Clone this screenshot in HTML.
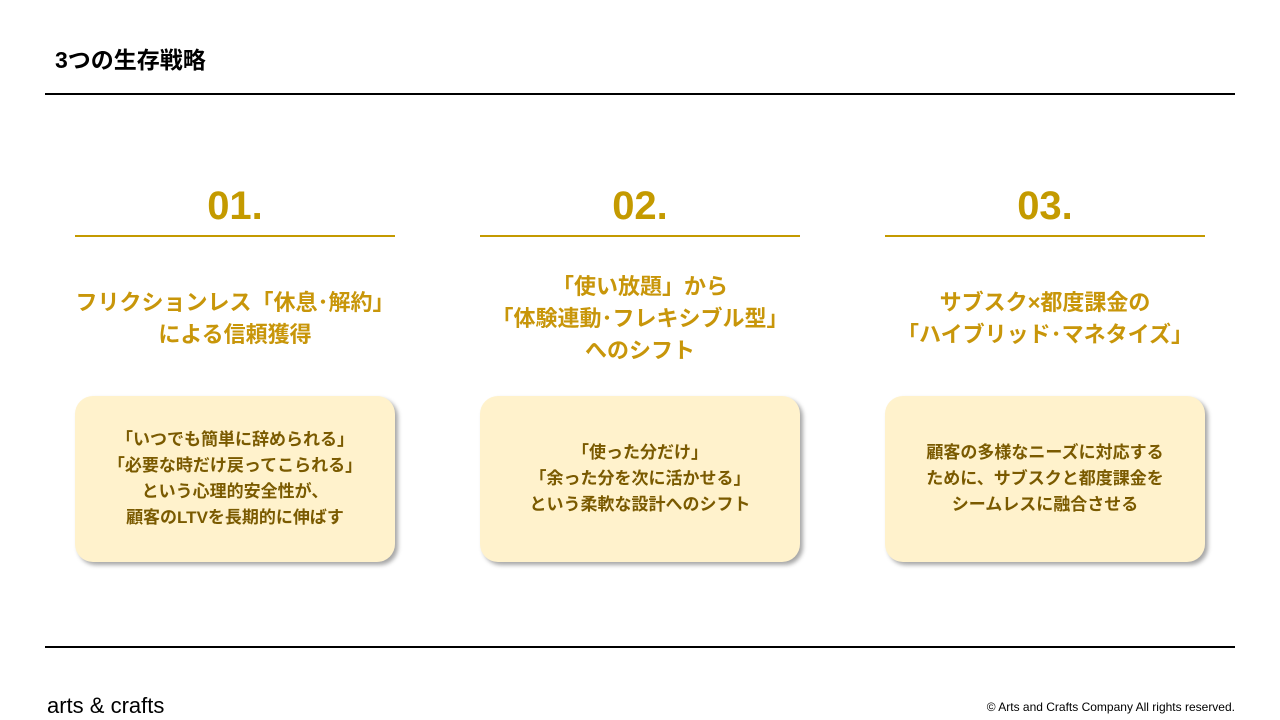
<!DOCTYPE html>
<html><head><meta charset="utf-8"><style>
body{margin:0;width:1280px;height:720px;background:#fff;position:relative;overflow:hidden;font-family:"Liberation Sans","Noto Sans CJK JP",sans-serif;}
.t{position:absolute;left:55px;top:41px;font-size:23px;font-weight:bold;color:#000;}
.hl{position:absolute;left:45px;width:1190px;height:2px;background:#000;}
.col{position:absolute;width:320px;top:0;}
.num{position:absolute;top:184px;width:320px;text-align:center;font-size:40px;font-weight:bold;color:#c49a00;}
.ul{position:absolute;top:235px;width:320px;height:2px;background:#c49a00;}
.h{position:absolute;width:360px;left:-20px;text-align:center;font-size:22px;font-weight:bold;line-height:32px;color:#c8960a;}
.box{position:absolute;top:396px;width:320px;height:166px;background:#fff2cc;border-radius:18px;box-shadow:3px 3px 4px rgba(0,0,0,0.35);display:flex;align-items:center;justify-content:center;text-align:center;font-size:17px;line-height:26px;font-weight:bold;color:#7a5a00;}
.f1{position:absolute;left:47px;top:693px;font-size:22px;color:#000;}
.f2{position:absolute;right:45px;top:700px;font-size:12px;color:#000;}
</style></head><body>
<div class="t">3つの生存戦略</div>
<div class="hl" style="top:93px"></div>
<div class="hl" style="top:646px"></div>

<div class="col" style="left:75px">
<div class="num">01.</div><div class="ul"></div>
<div class="h" style="top:287px">フリクションレス「休息･解約」<br>による信頼獲得</div>
<div class="box"><div>「いつでも簡単に辞められる」<br>「必要な時だけ戻ってこられる」<br>という心理的安全性が、<br>顧客のLTVを長期的に伸ばす</div></div>
</div>

<div class="col" style="left:480px">
<div class="num">02.</div><div class="ul"></div>
<div class="h" style="top:271px">「使い放題」から<br>「体験連動･フレキシブル型」<br>へのシフト</div>
<div class="box"><div>「使った分だけ」<br>「余った分を次に活かせる」<br>という柔軟な設計へのシフト</div></div>
</div>

<div class="col" style="left:885px">
<div class="num">03.</div><div class="ul"></div>
<div class="h" style="top:287px">サブスク×都度課金の<br>「ハイブリッド･マネタイズ」</div>
<div class="box"><div>顧客の多様なニーズに対応する<br>ために、サブスクと都度課金を<br>シームレスに融合させる</div></div>
</div>

<div class="f1">arts &amp; crafts</div>
<div class="f2">© Arts and Crafts Company All rights reserved.</div>
</body></html>
